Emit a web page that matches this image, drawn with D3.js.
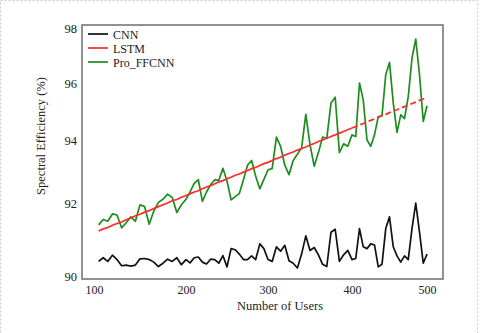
<!DOCTYPE html>
<html>
<head>
<meta charset="utf-8">
<script src="https://cdn.jsdelivr.net/npm/d3@7"></script>
<style>
  body { margin: 0; background: #fff; }
</style>
</head>
<body>
<div id="chart"></div>
<script>
// data
var users = [105,110,115,120,125,130,135,140,145,150,155,160,165,170,175,180,185,190,195,200,
             205,210,215,220,225,230,235,240,245,250,255,260,265,270,275,280,285,290,295,300,
             305,310,315,320,325,330,335,340,345,350,355,360,365,370,375,380,385,390,395,400,
             405,410,415,420,425,430,435,440,445,450,455,460,465,470,475,480,485,490,495,500];

var cnn = [90.40,90.50,90.40,90.57,90.45,90.28,90.30,90.27,90.30,90.47,90.48,90.45,90.38,90.26,90.35,90.46,90.40,90.50,90.31,90.45,
           90.36,90.50,90.52,90.38,90.33,90.46,90.45,90.35,90.56,90.25,90.75,90.72,90.60,90.45,90.45,90.55,90.45,90.88,90.75,90.45,
           90.40,90.80,90.68,90.84,90.42,90.35,90.22,90.60,91.10,90.70,90.78,90.58,90.32,90.26,91.20,91.28,90.40,90.58,90.70,90.45,
           90.48,91.30,90.80,90.75,90.88,90.85,90.25,90.32,91.30,91.62,90.80,90.55,90.38,90.55,90.45,91.30,92.00,91.20,90.35,90.60];

var lstm = [91.23,91.29,91.33,91.39,91.44,91.48,91.54,91.59,91.65,91.69,91.75,91.79,91.85,91.90,91.95,92.00,92.07,92.11,92.18,92.24,
            92.29,92.35,92.39,92.45,92.51,92.55,92.61,92.67,92.71,92.77,92.82,92.88,92.92,92.98,93.03,93.09,93.13,93.19,93.25,93.29,
            93.35,93.41,93.45,93.52,93.57,93.62,93.68,93.73,93.78,93.84,93.89,93.95,94.00,94.06,94.12,94.18,94.24,94.30,94.36,94.42,
            94.47,94.53,94.58,94.64,94.69,94.74,94.80,94.85,94.90,94.96,95.01,95.06,95.12,95.17,95.22,95.28,95.33,95.39,95.44,95.49];

var proFFCNN = [91.40,91.55,91.50,91.70,91.67,91.32,91.46,91.62,91.50,91.95,91.90,91.42,91.78,92.02,92.12,92.28,92.18,91.74,91.95,92.12,
                92.35,92.62,92.74,92.05,92.35,92.58,92.74,92.72,93.10,92.70,92.10,92.20,92.30,92.73,93.20,93.35,92.85,92.45,92.75,93.05,
                93.10,94.10,93.80,93.20,92.90,93.35,93.55,93.75,94.90,93.85,93.17,93.60,94.10,94.06,95.30,95.50,93.60,93.88,93.80,94.18,
                94.12,96.00,95.40,94.00,93.80,94.18,94.82,94.85,96.30,96.75,95.30,94.27,94.88,94.75,95.52,96.90,97.60,96.30,94.65,95.20];

var xTicks = [100, 200, 300, 400, 500];
var yTicks = [90, 92, 94, 96, 98];
var seriesNames = ["CNN", "LSTM", "Pro_FFCNN"];
var seriesColors = ["#111111", "#ff2a2a", "#1f8c1f"];

var serif = "'Liberation Serif', 'Times New Roman', serif";

// set the dimensions and margins of the graph
var margin = {top: 25, right: 37, bottom: 54, left: 82},
    width = 480 - margin.left - margin.right,
    height = 333 - margin.top - margin.bottom;

var root = d3.select("#chart")
  .append("svg")
    .attr("width", 480)
    .attr("height", 333);

// faint dashed frame of the picture
root.append("rect")
  .attr("x", 0.5).attr("y", 0.5)
  .attr("width", 477).attr("height", 345)
  .attr("fill", "none")
  .attr("stroke", "#c8c8c8")
  .attr("stroke-dasharray", "2,2");

var svg = root.append("g")
  .attr("transform", "translate(" + margin.left + "," + margin.top + ")");

// the source figure is slightly stretched, so the scales are piecewise
var x = d3.scaleLinear()
  .domain(xTicks)
  .range([12, 104, 186, 270, 345]);

var y = d3.scaleLinear()
  .domain(yTicks)
  .range([251, 178, 115, 58, 3]);

// axes (labels only, no tick marks)
var xAxis = svg.append("g")
  .attr("transform", "translate(0," + height + ")")
  .call(d3.axisBottom(x).tickValues(xTicks).tickSize(0).tickPadding(6));
xAxis.select(".domain").remove();
xAxis.attr("font-family", serif).attr("font-size", 12);
xAxis.selectAll("text").attr("fill", "#222");

var yAxis = svg.append("g")
  .call(d3.axisLeft(y).tickValues(yTicks).tickSize(0).tickPadding(5));
yAxis.select(".domain").remove();
yAxis.attr("font-family", serif).attr("font-size", 12.5);
yAxis.selectAll("text").attr("fill", "#222");

// plot frame
svg.append("rect")
  .attr("width", width)
  .attr("height", height)
  .attr("fill", "none")
  .attr("stroke", "#6e6e6e")
  .attr("stroke-width", 1.5);

var line = d3.line()
  .x(function(d) { return x(d[0]); })
  .y(function(d) { return y(d[1]); });

function pairs(vals) {
  return users.map(function(u, i) { return [u, vals[i]]; });
}

svg.append("path")
  .datum(pairs(cnn))
  .attr("fill", "none")
  .attr("stroke", seriesColors[0])
  .attr("stroke-width", 1.7)
  .attr("stroke-linejoin", "round")
  .attr("d", line);

svg.append("path")
  .datum(pairs(proFFCNN))
  .attr("fill", "none")
  .attr("stroke", seriesColors[2])
  .attr("stroke-width", 1.7)
  .attr("stroke-linejoin", "round")
  .attr("d", line);

// LSTM: solid, then dashed towards the end
var lstmPts = pairs(lstm);
svg.append("path")
  .datum(lstmPts.filter(function(d) { return d[0] <= 400; }))
  .attr("fill", "none")
  .attr("stroke", seriesColors[1])
  .attr("stroke-width", 1.7)
  .attr("d", line);
svg.append("path")
  .datum(lstmPts.filter(function(d) { return d[0] >= 400; }))
  .attr("fill", "none")
  .attr("stroke", seriesColors[1])
  .attr("stroke-width", 1.7)
  .attr("stroke-dasharray", "6,3")
  .attr("d", line);

// legend
var legend = svg.append("g").attr("transform", "translate(6,9)");
seriesNames.forEach(function(name, i) {
  legend.append("line")
    .attr("x1", 0).attr("x2", 20)
    .attr("y1", i * 14).attr("y2", i * 14)
    .attr("stroke", seriesColors[i])
    .attr("stroke-width", 1.7);
  legend.append("text")
    .attr("x", 25).attr("y", i * 14 + 4.5)
    .attr("font-family", serif)
    .attr("font-size", 12)
    .attr("fill", "#222")
    .text(name);
});

// axis titles
root.append("text")
  .attr("x", 280).attr("y", 310)
  .attr("text-anchor", "middle")
  .attr("font-family", serif)
  .attr("font-size", 12.5)
  .attr("fill", "#222")
  .text("Number of Users");

root.append("text")
  .attr("transform", "translate(45,136)rotate(-90)")
  .attr("text-anchor", "middle")
  .attr("font-family", serif)
  .attr("font-size", 12.5)
  .attr("fill", "#222")
  .text("Spectral Efficiency (%)");
</script>
</body>
</html>
